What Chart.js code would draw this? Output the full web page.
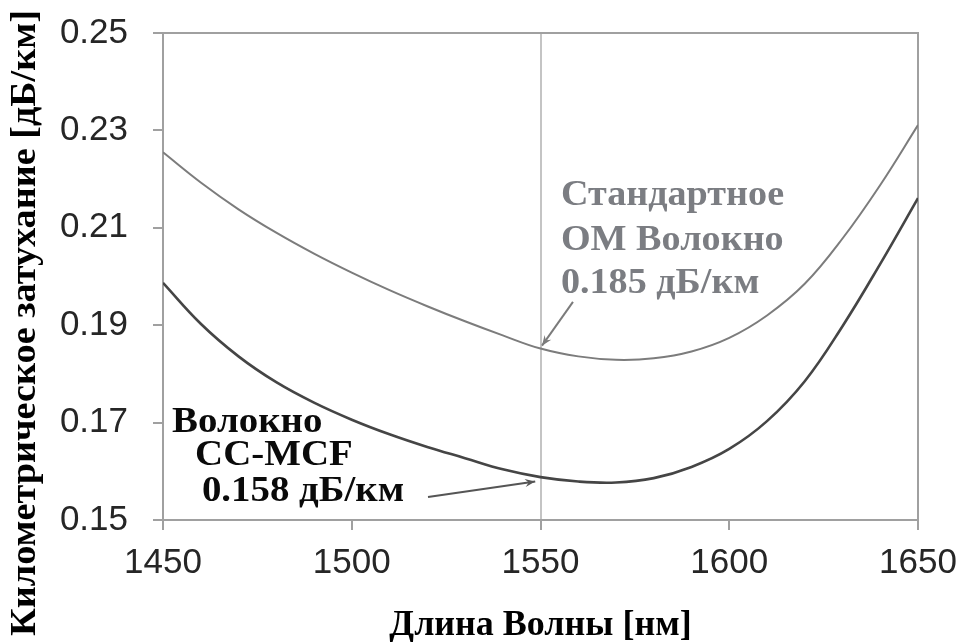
<!DOCTYPE html>
<html>
<head>
<meta charset="utf-8">
<script src="https://cdn.jsdelivr.net/npm/chart.js@4.4.1/dist/chart.umd.min.js"></script>
<style>
html,body{margin:0;padding:0;background:#fff;}
#wrap{width:965px;height:642px;position:relative;}
</style>
</head>
<body>
<div id="wrap"><canvas id="c"></canvas></div>
<script>
// ---- data ----
const wavelengths = [1450,1460,1470,1480,1490,1500,1510,1520,1530,1540,1550,1560,1570,1580,1590,1600,1610,1620,1630,1640,1650];
const standardSM = [0.2255,0.2193,0.2138,0.2090,0.2047,0.2008,0.1972,0.1939,0.1908,0.1879,0.1852,0.1836,0.1829,0.1832,0.1846,0.1874,0.1920,0.1985,0.2078,0.2188,0.2311];
const ccMCF = [0.1987,0.1903,0.1836,0.1783,0.1741,0.1706,0.1676,0.1650,0.1627,0.1604,0.1588,0.1579,0.1577,0.1586,0.1609,0.1646,0.1703,0.1785,0.1898,0.2026,0.2161];
const xTicks = [1450,1500,1550,1600,1650];
const yTicks = [0.15,0.17,0.19,0.21,0.23,0.25];
const xTitle = 'Длина Волны [нм]';
const yTitle = 'Километрическое затухание [дБ/км]';
const standardLabel = ['Стандартное','ОМ Волокно','0.185 дБ/км'];
const mcfLabel = ['Волокно','CC-MCF','0.158 дБ/км'];

const AXIS_GRAY = '#a0a0a0';
const SERIF = '"Liberation Serif", "Times New Roman", serif';

function drawArrow(ctx, x1, y1, x2, y2, color, w) {
  ctx.save();
  ctx.strokeStyle = color; ctx.fillStyle = color; ctx.lineWidth = w;
  ctx.beginPath(); ctx.moveTo(x1, y1); ctx.lineTo(x2, y2); ctx.stroke();
  const a = Math.atan2(y2 - y1, x2 - x1), L = 11, s = 0.38;
  ctx.beginPath();
  ctx.moveTo(x2, y2);
  ctx.lineTo(x2 - L*Math.cos(a - s), y2 - L*Math.sin(a - s));
  ctx.lineTo(x2 - L*0.6*Math.cos(a), y2 - L*0.6*Math.sin(a));
  ctx.lineTo(x2 - L*Math.cos(a + s), y2 - L*Math.sin(a + s));
  ctx.closePath(); ctx.fill();
  ctx.restore();
}
// draw text with a horizontal stretch factor (reference font is wider than Liberation Serif)
function stretchText(ctx, text, x, y, sx) {
  ctx.save();
  ctx.translate(x, y);
  ctx.scale(sx, 1);
  ctx.fillText(text, 0, 0);
  ctx.restore();
}

const decor = {
  id: 'decor',
  beforeDatasetsDraw(chart) {
    const {ctx, chartArea: a} = chart;
    ctx.save();
    ctx.strokeStyle = AXIS_GRAY; ctx.lineWidth = 2;
    ctx.beginPath();
    ctx.moveTo(a.left, a.top); ctx.lineTo(a.right, a.top); ctx.lineTo(a.right, a.bottom);
    ctx.stroke();
    ctx.restore();
  },
  afterDraw(chart) {
    const {ctx, scales: {x, y}, chartArea: a} = chart;
    ctx.save();
    ctx.textAlign = 'left'; ctx.textBaseline = 'alphabetic';
    ctx.font = 'bold 36px ' + SERIF;
    // standard fiber label
    ctx.fillStyle = '#7b7d82';
    const sx = x.getPixelForValue(1555.4);
    stretchText(ctx, standardLabel[0], sx, y.getPixelForValue(0.2147), 1.06);
    stretchText(ctx, standardLabel[1], sx, y.getPixelForValue(0.2055), 1.06);
    stretchText(ctx, standardLabel[2], sx, y.getPixelForValue(0.1966), 1.06);
    drawArrow(ctx, x.getPixelForValue(1558.6), y.getPixelForValue(0.1948),
              x.getPixelForValue(1550.4), y.getPixelForValue(0.1858), '#7b7b7b', 2);
    // MCF label
    ctx.fillStyle = '#0a0a0a';
    stretchText(ctx, mcfLabel[0], x.getPixelForValue(1452.4), y.getPixelForValue(0.1681), 1.08);
    stretchText(ctx, mcfLabel[1], x.getPixelForValue(1458.5), y.getPixelForValue(0.1613), 1.08);
    stretchText(ctx, mcfLabel[2], x.getPixelForValue(1460.3), y.getPixelForValue(0.1540), 1.08);
    drawArrow(ctx, x.getPixelForValue(1520.2), y.getPixelForValue(0.1547),
              x.getPixelForValue(1548.6), y.getPixelForValue(0.1579), '#555', 2);
    // x title
    ctx.fillStyle = '#000';
    ctx.font = 'bold 36px ' + SERIF;
    ctx.textAlign = 'center';
    ctx.fillText(xTitle, (a.left + a.right) / 2, 635);
    // y title (rotated), stretched along its length
    ctx.translate(35, 323);
    ctx.rotate(-Math.PI/2);
    ctx.font = 'bold 35px ' + SERIF;
    const w = ctx.measureText(yTitle).width;
    ctx.scale(626 / w, 1);
    ctx.fillText(yTitle, 0, 0);
    ctx.restore();
  }
};

new Chart(document.getElementById('c'), {
  type: 'line',
  data: {
    labels: wavelengths,
    datasets: [
      { label: 'Стандартное ОМ Волокно', data: wavelengths.map((w,i)=>({x:w,y:standardSM[i]})),
        borderColor: '#7c7c7c', borderWidth: 2, pointRadius: 0, tension: 0.4, fill: false },
      { label: 'CC-MCF', data: wavelengths.map((w,i)=>({x:w,y:ccMCF[i]})),
        borderColor: '#454545', borderWidth: 2.6, pointRadius: 0, tension: 0.4, fill: false }
    ]
  },
  options: {
    responsive: true, maintainAspectRatio: false, animation: false,
    devicePixelRatio: 1,
    layout: { padding: { top: 33, right: 47, left: 0, bottom: 0 } },
    plugins: { legend: { display: false }, tooltip: { enabled: false } },
    scales: {
      x: {
        type: 'linear', min: 1450, max: 1650,
        afterBuildTicks: s => { s.ticks = xTicks.map(v => ({value: v})); },
        afterFit: s => { s.height = 122; s.paddingLeft = 0; s.paddingRight = 0; },
        ticks: { color: '#262626', padding: 12, maxRotation: 0, callback: v => String(v),
                 font: { family: '"Liberation Sans", Arial, sans-serif', size: 35 } },
        grid: {
          color: c => (c.tick && c.tick.value === 1550) ? '#c4c4c4' : 'rgba(0,0,0,0)',
          lineWidth: 2, tickColor: AXIS_GRAY, tickLength: 10
        },
        border: { color: AXIS_GRAY, width: 2 }
      },
      y: {
        min: 0.15, max: 0.25,
        afterBuildTicks: s => { s.ticks = yTicks.map(v => ({value: v})); },
        afterFit: s => { s.width = 163; s.paddingTop = 0; s.paddingBottom = 0; },
        ticks: { color: '#262626', padding: 25, callback: v => Number(v).toFixed(2),
                 font: { family: '"Liberation Sans", Arial, sans-serif', size: 35 } },
        grid: { drawOnChartArea: false, tickColor: AXIS_GRAY, tickLength: 10, lineWidth: 2 },
        border: { color: AXIS_GRAY, width: 2 }
      }
    }
  },
  plugins: [decor]
});
</script>
</body>
</html>
